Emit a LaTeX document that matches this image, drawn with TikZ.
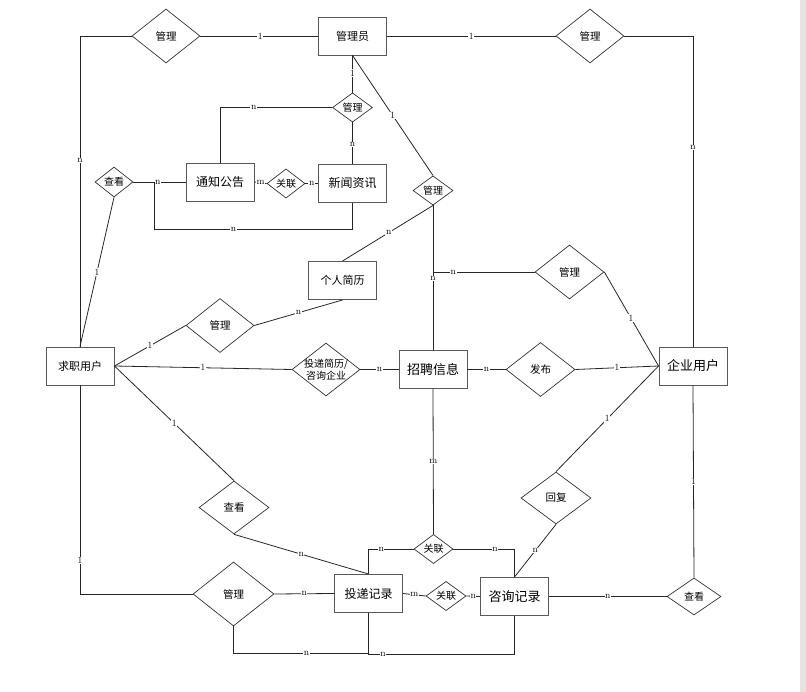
\documentclass[tikz,border=0pt]{standalone}
\usepackage{fontspec}
\newfontfamily\cjk{Noto Sans CJK SC}
\usetikzlibrary{shapes.geometric}
\definecolor{scrollgrey}{RGB}{230,228,226}
\begin{document}
\begin{tikzpicture}[x=1pt,y=-1pt,
 ent/.style={draw=black!65, line width=0.95pt, fill=white, minimum width=68pt, minimum height=38pt, inner sep=0pt, font=\cjk\fontsize{12}{14}\selectfont},
 rel/.style={draw=black!80, line width=0.7pt, shape=diamond, fill=white, inner sep=0pt, minimum width=68pt, minimum height=54pt, font=\cjk\fontsize{10.5}{12}\selectfont},
 srel/.style={rel, minimum width=40pt, minimum height=29pt, font=\cjk\fontsize{10}{12}\selectfont},
 ln/.style={draw=black!85, line width=0.8pt},
 lab/.style={fill=white, inner sep=0.6pt, font=\fontsize{9.5}{9.5}\selectfont}
]
\useasboundingbox (0,0) rectangle (806,692);
\fill[scrollgrey] (800,0) rectangle (806,692);

% entities
\node[ent, font=\cjk\fontsize{11}{13}\selectfont] (admin) at (352.5,36) {管理员};
\node[ent] (notice) at (220,182) {通知公告};
\node[ent] (news) at (352.5,183.5) {新闻资讯};
\node[ent, font=\cjk\fontsize{11}{13}\selectfont] (resume) at (342.5,280.5) {个人简历};
\node[ent, font=\cjk\fontsize{11}{13}\selectfont] (seeker) at (80,366) {求职用户};
\node[ent, font=\cjk\fontsize{13}{15}\selectfont] (job) at (433,369.5) {招聘信息};
\node[ent, font=\cjk\fontsize{13}{15}\selectfont] (comp) at (693,366) {企业用户};
\node[ent] (deliv) at (368.5,593.5) {投递记录};
\node[ent, font=\cjk\fontsize{13}{15}\selectfont] (consult) at (514.5,596.5) {咨询记录};

% relationships
\node[rel] (d1) at (166,36) {管理};
\node[rel] (d2) at (590,36) {管理};
\node[srel] (d3) at (352.5,107.5) {管理};
\node[srel, minimum width=38pt, minimum height=30pt] (d4) at (114,182) {查看};
\node[srel, minimum width=38pt] (d5) at (286,183.5) {关联};
\node[srel] (d6) at (433,190.5) {管理};
\node[rel] (d7) at (220,325.5) {管理};
\node[rel, minimum height=53pt, label={[font=\cjk\fontsize{10}{12}\selectfont, align=center]center:投递简历/\\咨询企业}] (d8) at (326,369.5) {};
\node[rel, minimum width=69pt] (d9) at (569.5,272) {管理};
\node[rel, minimum width=69pt] (d10) at (540.5,369.5) {发布};
\node[rel, minimum width=70pt, minimum height=52pt] (d11) at (556,498) {回复};
\node[rel, minimum width=70pt, minimum height=53pt] (d12) at (234,507.5) {查看};
\node[srel, minimum width=39pt] (d13) at (433.5,549) {关联};
\node[rel, minimum width=81pt, minimum height=64pt] (d14) at (233.5,594) {管理};
\node[srel] (d15) at (446,596) {关联};
\node[rel, minimum width=54pt, minimum height=37pt, font=\cjk\fontsize{10}{12}\selectfont] (d16) at (694,596.5) {查看};

% connectors
\draw[ln] (seeker.north) |- node[lab,pos=0.3]{n} (d1.west);
\draw[ln] (d1.east) -- node[lab,pos=0.51]{1} (admin.west);
\draw[ln] (admin.east) -- node[lab,pos=0.5]{1} (d2.west);
\draw[ln] (d2.east) -| node[lab,pos=0.68]{n} (comp.north);
\draw[ln] (admin.south) -- node[lab,pos=0.47]{1} (d3.north);
\draw[ln] (d3.west) -| node[lab,pos=0.35]{n} (notice.north);
\draw[ln] (d3.south) -- node[lab,pos=0.53]{n} (news.north);
\draw[ln] (admin.south) -- node[lab,pos=0.5]{1} (d6.north);
\draw[ln] (d6.south) -- (job.north);
\draw[ln] (d9.west) -| node[lab,pos=0.4]{n} node[lab,pos=0.54]{n} (job.north);
\draw[ln] (d6.south) -- node[lab,pos=0.49]{n} (resume.north);
\draw[ln] (d9.east) -- node[lab,pos=0.49]{1} (comp.west);
\draw[ln] (job.east) -- node[lab,pos=0.5]{n} (d10.west);
\draw[ln] (d10.east) -- node[lab,pos=0.5]{1} (comp.west);
\draw[ln] (d11.north) -- node[lab,pos=0.5]{1} (comp.west);
\draw[ln] (d11.south) -- node[lab,pos=0.5]{n} (consult.north);
\draw[ln] (comp.south) -- node[lab,pos=0.5]{1} (d16.north);
\draw[ln] (d16.west) -- node[lab,pos=0.5]{n} (consult.east);
\draw[ln] (seeker.east) -- node[lab,pos=0.5]{1} (d7.west);
\draw[ln] (d7.east) -- node[lab,pos=0.5]{n} (resume.south);
\draw[ln] (seeker.east) -- node[lab,pos=0.5]{1} (d8.west);
\draw[ln] (d8.east) -- node[lab,pos=0.5]{n} (job.west);
\draw[ln] (seeker.east) -- node[lab,pos=0.5]{1} (d12.north);
\draw[ln] (d12.south) -- node[lab,pos=0.5]{n} (deliv.north);
\draw[ln] (seeker.north) -- node[lab,pos=0.5]{1} (d4.south);
\draw[ln] (d4.east) -- node[lab,pos=0.47]{n} (notice.west);
\draw[ln] (d4.east) -- ++(21,0) -- ++(0,47) -| node[lab,pos=0.2]{n} (news.south);
\draw[ln] (notice.east) -- node[lab,pos=0.5]{m} (d5.west);
\draw[ln] (d5.east) -- node[lab,pos=0.5]{n} (news.west);
\draw[ln] (seeker.south) |- node[lab,pos=0.42]{1} (d14.west);
\draw[ln] (d14.east) -- node[lab,pos=0.5]{n} (deliv.west);
\draw[ln] (d14.south) -- ++(0,27) -| node[lab,pos=0.27]{n} (deliv.south);
\draw[ln] (deliv.south) -- ++(0,41) -| node[lab,pos=0.05]{n} (consult.south);
\draw[ln] (job.south) -- node[lab,pos=0.5]{m} (d13.north);
\draw[ln] (d13.west) -| node[lab,pos=0.36]{n} (deliv.north);
\draw[ln] (d13.east) -| node[lab,pos=0.34]{n} (consult.north);
\draw[ln] (deliv.east) -- node[lab,pos=0.5]{m} (d15.west);
\draw[ln] (d15.east) -- node[lab,pos=0.5]{n} (consult.west);
\end{tikzpicture}
\end{document}
